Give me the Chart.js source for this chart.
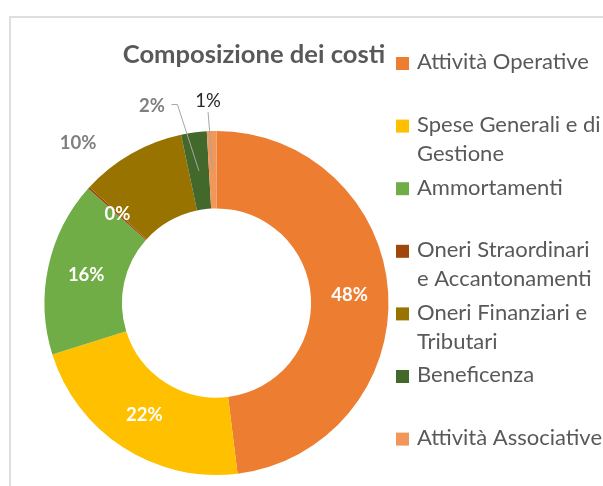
<!DOCTYPE html>
<html><head><meta charset="utf-8">
<script src="https://cdn.jsdelivr.net/npm/chart.js@4/dist/chart.umd.min.js"></script>
<style>
html,body{margin:0;padding:0;background:#fff;overflow:hidden}
#wrap{position:relative;width:603px;height:486px;overflow:hidden}
#frame{position:absolute;left:9px;top:16px;width:700px;height:600px;border:2px solid #dedede;box-sizing:border-box}
canvas{position:absolute;left:0;top:0}
</style></head><body>
<div id="wrap"><div id="frame"></div><canvas id="c" width="603" height="486"></canvas></div>
<script>
// ---- data ----
const chartTitle = 'Composizione dei costi';
const categories = [
  'Attività Operative',
  ['Spese Generali e di', 'Gestione'],
  'Ammortamenti',
  ['Oneri Straordinari', 'e Accantonamenti'],
  ['Oneri Finanziari e', 'Tributari'],
  'Beneficenza',
  'Attività Associative'
];
const values = [48.0, 22.1, 16.4, 0.2, 9.9, 2.4, 0.9];
const sliceColors = ['#ED7D31', '#FFC000', '#70AD47', '#9E480E', '#997300', '#43682B', '#F1975A'];

// ---- styling ----
const FONT = 'Lato, "Open Sans", sans-serif';
const textGrey = '#595959';

const total = values.reduce((a, b) => a + b, 0);
const pctLabel = v => Math.round(v / total * 100) + '%';

const overlayPlugin = {
  id: 'overlay',
  afterDraw(chart) {
    const ctx = chart.ctx;
    const meta = chart.getDatasetMeta(0);
    ctx.save();
    // title
    ctx.font = 'bold 25.6px ' + FONT;
    ctx.fillStyle = textGrey;
    ctx.textAlign = 'center';
    ctx.textBaseline = 'alphabetic';
    ctx.fillText(chartTitle, 254, 63);

    // legend
    ctx.font = '22px ' + FONT;
    ctx.textAlign = 'left';
    const firstBase = 69.3, step = 62.6, lineStep = 29;
    chart.data.labels.forEach((lab, i) => {
      const lines = Array.isArray(lab) ? lab : [lab];
      const by = firstBase + i * step;
      ctx.fillStyle = sliceColors[i];
      ctx.fillRect(396, by - 12.3, 13, 13);
      ctx.fillStyle = textGrey;
      lines.forEach((l, j) => ctx.fillText(l, 417, by + j * lineStep));
    });

    // data labels
    const outside = {
      4: {fx: -0.805, fy: -0.930, color: '#7F7F7F', bold: true},
      5: {fx: -0.375, fy: -1.145, color: '#7F7F7F', bold: true, leader: 'side'},
      6: {fx: -0.049, fy: -1.174, color: '#262626', bold: false, leader: 'below'}
    };
    ctx.textAlign = 'center';
    ctx.textBaseline = 'middle';
    meta.data.forEach((arc, i) => {
      const p = arc.getProps(['x', 'y', 'startAngle', 'endAngle', 'innerRadius', 'outerRadius'], true);
      const mid = (p.startAngle + p.endAngle) / 2;
      const rc = (p.innerRadius + p.outerRadius) / 2;
      const cx = p.x + Math.cos(mid) * rc, cy = p.y + Math.sin(mid) * rc;
      const txt = pctLabel(chart.data.datasets[0].data[i]);
      const o = outside[i];
      if (!o) {
        ctx.font = 'bold 18.5px ' + FONT;
        ctx.fillStyle = '#FFFFFF';
        ctx.fillText(txt, cx, cy);
        return;
      }
      const lx = p.x + o.fx * p.outerRadius, ly = p.y + o.fy * p.outerRadius;
      ctx.font = (o.bold ? 'bold ' : '') + '18.5px ' + FONT;
      ctx.fillStyle = o.color;
      ctx.fillText(txt, lx, ly);
      if (o.leader) {
        const w = ctx.measureText(txt).width;
        ctx.strokeStyle = '#A6A6A6';
        ctx.lineWidth = 1;
        ctx.beginPath();
        if (o.leader === 'side') {
          const sx = lx + w / 2 + 6.5, sy = ly - 1.5;
          ctx.moveTo(sx, sy);
          ctx.lineTo(sx + 6, sy);
          ctx.lineTo(cx, cy);
        } else {
          ctx.moveTo(lx, ly + 11);
          ctx.lineTo(cx, cy);
        }
        ctx.stroke();
      }
    });
    ctx.restore();
  }
};

function build() {
  new Chart(document.getElementById('c'), {
    type: 'doughnut',
    data: {
      labels: categories,
      datasets: [{data: values, backgroundColor: sliceColors, borderWidth: 0}]
    },
    options: {
      responsive: false,
      animation: false,
      cutout: '55%',
      layout: {padding: {left: 44.5, right: 214.5, top: 131, bottom: 11}},
      plugins: {legend: {display: false}, tooltip: {enabled: false}, title: {display: false}}
    },
    plugins: [overlayPlugin]
  });
}
const fontLoads = [document.fonts.load('bold 25.6px Lato'), document.fonts.load('22px Lato')];
Promise.race([Promise.all(fontLoads), new Promise(r => setTimeout(r, 800))]).then(build, build);
</script>
</body></html>
